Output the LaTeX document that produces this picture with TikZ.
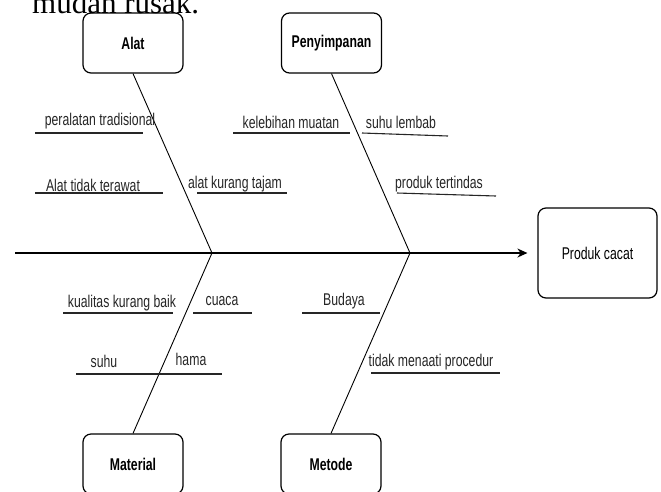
\documentclass[tikz,border=0pt]{standalone}
\usepackage{fontspec}
\setmainfont{Liberation Sans}
\newfontfamily\narrowf[FakeStretch=0.72]{Liberation Sans}
\newfontfamily\serifbig{Liberation Serif}
\usetikzlibrary{arrows.meta}
\begin{document}
\begin{tikzpicture}[x=1pt,y=-1pt,
  box/.style={draw, rounded corners=8pt, line width=1.2pt, minimum width=100pt, minimum height=60pt, inner sep=0pt, font=\narrowf\fontsize{17}{20}\selectfont\bfseries},
  lbl/.style={anchor=base, inner sep=0pt, font=\narrowf\fontsize{17}{20}\selectfont, text=black!85},
  bone/.style={line width=0.9pt},
  spine/.style={line width=1.5pt, -{Stealth[length=10pt,width=9pt]}},
  uline/.style={line width=1.1pt, draw=black!85}]
\useasboundingbox (0,0) rectangle (661,491);
\clip (0,0) rectangle (661,491);
\fill[white] (0,0) rectangle (661,491);

% cut-off text at the top
\node[anchor=base west, inner sep=0pt, font=\serifbig\fontsize{31}{31}\selectfont] (title) at (32,13) {mudah rusak.};

% boxes
\node[box] (alat) at (133,43) {Alat};
\node[box] (peny) at (331.5,43) {Penyimpanan};
\node[box] (mat) at (133,464) {Material};
\node[box] (met) at (331,464) {Metode};
\node[box, font=\narrowf\fontsize{17}{20}\selectfont, minimum width=119pt, minimum height=90pt] (prod) at (597.5,253) {Produk cacat};

% spine and bones
\coordinate (sL) at (15,253);
\coordinate (j1) at (212,253);
\coordinate (j2) at (410,253);
\draw[spine, shorten >=10pt] (sL) -- (prod.west);
\draw[bone] (alat.south) -- (j1) -- (mat.north);
\draw[bone] (peny.south) -- (j2) -- (met.north);

% top-left labels
\node[lbl] (l1) at (100,125) {peralatan tradisional};
\draw[uline] (35,133) -- (143,133);
\node[lbl] (l2) at (93,191) {Alat tidak terawat};
\draw[uline] (35,193) -- (163,193);
\node[lbl] (l3) at (235,188) {alat kurang tajam};
\draw[uline] (197,193) -- (287,193);

% top-right labels
\node[lbl] (l4) at (291,128) {kelebihan muatan};
\draw[uline] (233,133) -- (350,133);
\node[lbl] (l5) at (401,128) {suhu lembab};
\draw[uline] (362,133) -- (448,136);
\node[lbl] (l6) at (439,188) {produk tertindas};
\draw[uline] (397,193) -- (496,196);

% bottom-left labels
\node[lbl] (l7) at (122,307) {kualitas kurang baik};
\draw[uline] (63,313) -- (173,313);
\node[lbl] (l8) at (222,305) {cuaca};
\draw[uline] (193,313) -- (252,313);
\node[lbl] (l9) at (104,367) {suhu};
\draw[uline] (76,374) -- (160,374);
\node[lbl] (l10) at (191,365) {hama};
\draw[uline] (160,374) -- (222,374);

% bottom-right labels
\node[lbl] (l11) at (344,305) {Budaya};
\draw[uline] (302,313) -- (380,313);
\node[lbl] (l12) at (431,366) {tidak menaati procedur};
\draw[uline] (371,373) -- (500,373);
\end{tikzpicture}
\end{document}
